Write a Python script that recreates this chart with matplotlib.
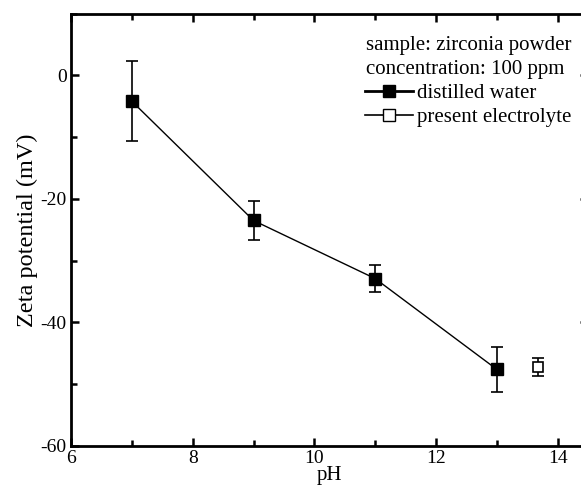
import matplotlib
matplotlib.use('Agg')
import matplotlib.pyplot as plt
from matplotlib.lines import Line2D
from matplotlib.ticker import MultipleLocator

# distilled water series
ph_water = [7, 9, 11, 13]
zeta_water = [-4.2, -23.5, -32.9, -47.6]
err_water = [6.5, 3.1, 2.2, 3.6]

# present electrolyte series
ph_elec = [13.67]
zeta_elec = [-47.2]
err_elec = [1.4]

plt.rcParams['font.family'] = ['Liberation Serif', 'DejaVu Serif']
plt.rcParams['axes.unicode_minus'] = False

fig = plt.figure(figsize=(5.81, 4.92), dpi=100)
ax = fig.add_axes([0.1222, 0.0935, 0.890, 0.879])

ax.errorbar(ph_water, zeta_water, yerr=err_water, fmt='s-', color='black',
            markersize=8.5, linewidth=1.0, elinewidth=1.2, capsize=4,
            capthick=1.2)
ax.errorbar(ph_elec, zeta_elec, yerr=err_elec, fmt='s', color='black',
            markerfacecolor='white', markersize=7.5, markeredgewidth=1.2,
            elinewidth=1.2, capsize=4, capthick=1.2)

ax.set_xlim(6, 14.5)
ax.set_ylim(-60, 10)
ax.xaxis.set_major_locator(MultipleLocator(2))
ax.xaxis.set_minor_locator(MultipleLocator(1))
ax.yaxis.set_major_locator(MultipleLocator(20))
ax.yaxis.set_minor_locator(MultipleLocator(10))
ax.tick_params(which='both', direction='in', top=True, right=True,
               width=1.8, labelsize=14, pad=3)
ax.tick_params(which='major', length=6)
ax.tick_params(which='minor', length=4)
for s in ax.spines.values():
    s.set_linewidth(2)

ax.set_xlabel('pH', fontsize=15, labelpad=-1)
ax.set_ylabel('Zeta potential (mV)', fontsize=17.5, labelpad=2)

ax.text(0.571, 0.925, 'sample: zirconia powder', transform=ax.transAxes,
        fontsize=15, va='center', ha='left')
ax.text(0.571, 0.870, 'concentration: 100 ppm', transform=ax.transAxes,
        fontsize=15, va='center', ha='left')
handles = [
    Line2D([], [], color='black', linewidth=2, marker='s', markersize=8),
    Line2D([], [], color='black', linewidth=1.2, marker='s', markersize=8,
           markerfacecolor='white'),
]
labels = ['distilled water', 'present electrolyte']
ax.legend(handles, labels, loc='upper left', bbox_to_anchor=(0.569, 0.838),
          frameon=False, fontsize=15, handlelength=2.3, handletextpad=0.2,
          labelspacing=0.2, borderaxespad=0, borderpad=0)

plt.savefig('out.png', dpi=100)
plt.close()
